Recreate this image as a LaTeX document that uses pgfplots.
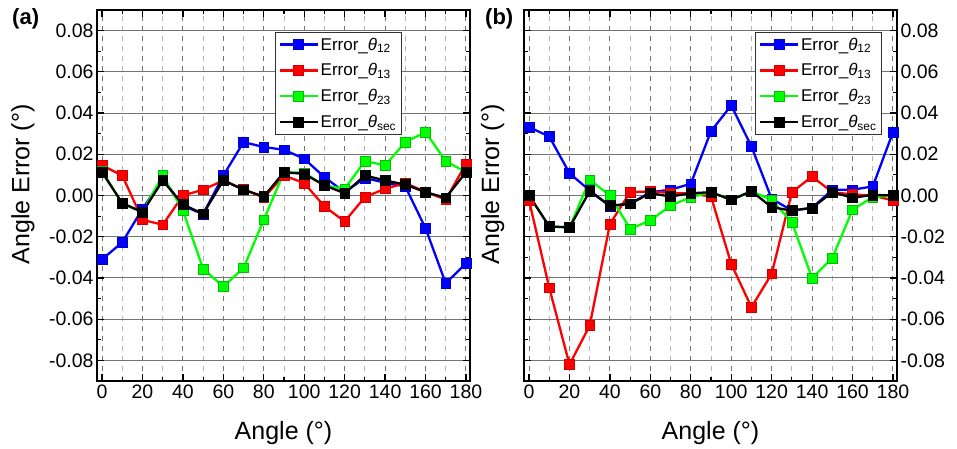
\documentclass[border=0pt]{standalone}
\usepackage{fontspec}
\setmainfont{Liberation Sans}
\usepackage{pgfplots}
\pgfplotsset{compat=1.18}
\usepackage{pgfplotstable}

\definecolor{cblue}{RGB}{0,0,255}
\definecolor{cred}{RGB}{255,0,0}
\definecolor{cgreen}{RGB}{0,255,0}

\pgfplotstableread{
ang b r g k
0 -0.0310 0.0146 0.0120 0.0113
10 -0.0227 0.0097 -0.0040 -0.0037
20 -0.0065 -0.0118 -0.0080 -0.0081
30 0.0080 -0.0142 0.0097 0.0073
40 -0.0050 0.0000 -0.0073 -0.0044
50 -0.0090 0.0028 -0.0356 -0.0089
60 0.0097 0.0073 -0.0442 0.0073
70 0.0259 0.0030 -0.0351 0.0028
80 0.0235 -0.0010 -0.0118 -0.0005
90 0.0222 0.0097 0.0113 0.0113
100 0.0178 0.0060 0.0110 0.0105
110 0.0089 -0.0053 0.0049 0.0049
120 0.0016 -0.0126 0.0032 0.0011
130 0.0085 -0.0008 0.0167 0.0097
140 0.0062 0.0033 0.0146 0.0073
150 0.0044 0.0060 0.0259 0.0053
160 -0.0159 0.0018 0.0307 0.0016
170 -0.0426 -0.0020 0.0167 -0.0011
180 -0.0329 0.0154 0.0113 0.0113
}\dataA

\pgfplotstableread{
ang b r g k
0 0.0332 -0.0024 0.0000 0.0000
10 0.0286 -0.0448 -0.0150 -0.0150
20 0.0108 -0.0820 -0.0155 -0.0155
30 0.0024 -0.0631 0.0076 0.0021
40 -0.0053 -0.0138 0.0000 -0.0049
50 -0.0040 0.0016 -0.0162 -0.0040
60 0.0016 0.0020 -0.0121 0.0011
70 0.0028 0.0012 -0.0049 -0.0005
80 0.0057 0.0010 -0.0008 0.0011
90 0.0312 -0.0005 0.0016 0.0016
100 0.0437 -0.0332 -0.0021 -0.0021
110 0.0238 -0.0542 0.0020 0.0021
120 -0.0016 -0.0380 -0.0021 -0.0057
130 -0.0073 0.0016 -0.0130 -0.0073
140 -0.0060 0.0092 -0.0401 -0.0060
150 0.0028 0.0016 -0.0303 0.0016
160 0.0028 0.0005 -0.0069 -0.0011
170 0.0044 0.0000 -0.0008 0.0003
180 0.0307 -0.0024 0.0000 0.0000
}\dataB

\pgfplotsset{
  myaxis/.style={
    scale only axis, width=373pt, height=371pt,
    xmin=-2.5, xmax=182, ymin=-0.09, ymax=0.09,
    xtick={0,20,40,60,80,100,120,140,160,180},
    minor xtick={10,30,50,70,90,110,130,150,170},
    ytick={-0.08,-0.06,-0.04,-0.02,0,0.02,0.04,0.06,0.08},
    minor ytick={-0.07,-0.05,-0.03,-0.01,0.01,0.03,0.05,0.07},
    scaled y ticks=false,
    yticklabel style={/pgf/number format/fixed, /pgf/number format/fixed zerofill, /pgf/number format/precision=2},
    /pgf/number format/assume math mode=true,
    ticklabel style={font=\fontsize{19.5}{22}\selectfont},
    tick align=inside,
    major tick length=7pt, minor tick length=4pt,
    every tick/.style={black, line width=1.2pt},
    axis line style={line width=1.8pt},
    xmajorgrids, xminorgrids, ymajorgrids,
    major x grid style={draw=black!55, line width=1pt, dash pattern=on 5pt off 5pt},
    minor x grid style={draw=black!30, line width=1pt, dash pattern=on 5pt off 5pt},
    major y grid style={draw=black!55, line width=1.1pt, solid},
    xlabel={Angle (°)},
    ylabel={Angle Error (°)},
    label style={font=\fontsize{25}{30}\selectfont},
    xlabel style={at={(axis description cs:0.5,-0.159)}, anchor=base},
    legend cell align=left,
    legend image code/.code={\draw[mark repeat=2,mark phase=2] plot coordinates {(0pt,0pt) (19pt,0pt) (38pt,0pt)};},
    legend style={draw=black!80, line width=0.9pt, fill=white,
      font=\fontsize{17}{20}\selectfont, row sep=8pt, inner sep=3pt},
    every axis plot/.append style={line width=2.3pt, mark=square*, mark size=4.9pt},
  },
  sb/.style={cblue, mark options={fill=cblue, draw=cblue!80!black, line width=0.5pt, solid}},
  sr/.style={cred, mark options={fill=cred, draw=cred!80!black, line width=0.5pt, solid}},
  sg/.style={cgreen, mark options={fill=cgreen, draw=cgreen!75!black, line width=0.5pt, solid}},
  sk/.style={black, mark options={fill=black, draw=black, line width=0.5pt, solid}},
}

\begin{document}
\begin{tikzpicture}
\path[use as bounding box] (-97pt,-67pt) rectangle (860pt,381pt);

\begin{axis}[myaxis, at={(0pt,0pt)}, anchor=south west,
  ylabel style={at={(axis description cs:-0.158,0.53)}, anchor=south},
  legend style={at={(0.477,0.94)}, anchor=north west}]
\addplot[sb] table[x=ang,y=b] {\dataA};
\addlegendentry{Error\_\textit{θ}\textsubscript{12}}
\addplot[sr] table[x=ang,y=r] {\dataA};
\addlegendentry{Error\_\textit{θ}\textsubscript{13}}
\addplot[sg] table[x=ang,y=g] {\dataA};
\addlegendentry{Error\_\textit{θ}\textsubscript{23}}
\addplot[sk] table[x=ang,y=k] {\dataA};
\addlegendentry{Error\_\textit{θ}\textsubscript{sec}}
\end{axis}

\begin{axis}[myaxis, at={(427pt,0pt)}, anchor=south west,
  yticklabel pos=right,
  ylabel style={at={(axis description cs:-0.043,0.53)}, anchor=south},
  legend style={at={(0.62,0.94)}, anchor=north west}]
\addplot[sb] table[x=ang,y=b] {\dataB};
\addlegendentry{Error\_\textit{θ}\textsubscript{12}}
\addplot[sr] table[x=ang,y=r] {\dataB};
\addlegendentry{Error\_\textit{θ}\textsubscript{13}}
\addplot[sg] table[x=ang,y=g] {\dataB};
\addlegendentry{Error\_\textit{θ}\textsubscript{23}}
\addplot[sk] table[x=ang,y=k] {\dataB};
\addlegendentry{Error\_\textit{θ}\textsubscript{sec}}
\end{axis}

\node[font=\bfseries\fontsize{22}{25}\selectfont, anchor=north west, inner sep=0pt] at (-85pt,373pt) {(a)};
\node[font=\bfseries\fontsize{22}{25}\selectfont, anchor=north west, inner sep=0pt] at (388pt,373pt) {(b)};
\end{tikzpicture}
\end{document}
